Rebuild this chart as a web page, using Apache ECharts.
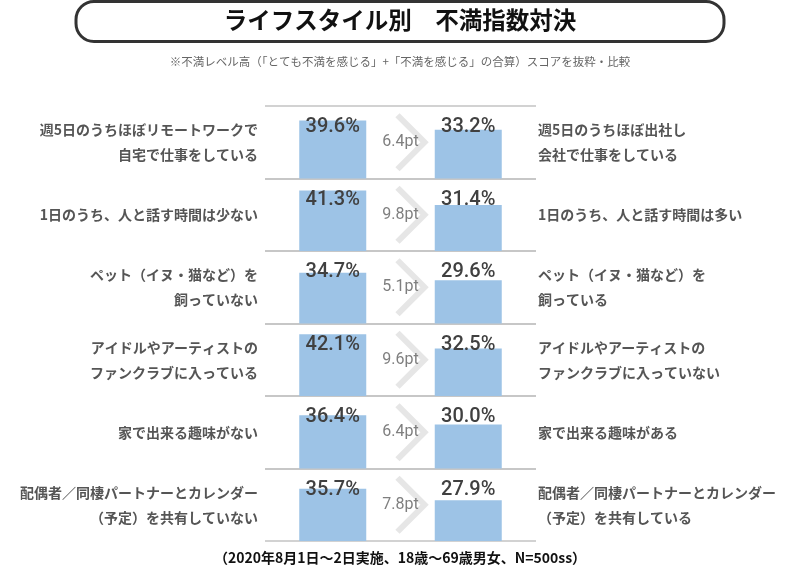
<!DOCTYPE html>
<html>
<head>
<meta charset="utf-8">
<script src="https://cdn.jsdelivr.net/npm/echarts@6/dist/echarts.min.js"></script>
<style>
html,body{margin:0;padding:0;background:#fff;}
#main{width:800px;height:575px;}
</style>
</head>
<body>
<div id="main"></div>
<script>
const titleText = 'ライフスタイル別　不満指数対決';
const subtitleText = '※不満レベル高（「とても不満を感じる」+「不満を感じる」の合算）スコアを抜粋・比較';
const footerText = '（2020年8月1日～2日実施、18歳～69歳男女、N=500ss）';

const leftLabels = [
  '週5日のうちほぼリモートワークで\n自宅で仕事をしている',
  '1日のうち、人と話す時間は少ない',
  'ペット（イヌ・猫など）を\n飼っていない',
  'アイドルやアーティストの\nファンクラブに入っている',
  '家で出来る趣味がない',
  '配偶者／同棲パートナーとカレンダー\n（予定）を共有していない'
];
const rightLabels = [
  '週5日のうちほぼ出社し\n会社で仕事をしている',
  '1日のうち、人と話す時間は多い',
  'ペット（イヌ・猫など）を\n飼っている',
  'アイドルやアーティストの\nファンクラブに入っていない',
  '家で出来る趣味がある',
  '配偶者／同棲パートナーとカレンダー\n（予定）を共有している'
];
const leftValues = [39.6, 41.3, 34.7, 42.1, 36.4, 35.7];
const rightValues = [33.2, 31.4, 29.6, 32.5, 30.0, 27.9];
const diffValues = [6.4, 9.8, 5.1, 9.6, 6.4, 7.8];
const sideCategories = ['left', 'right'];

const CJK = '"Noto Sans CJK JP", "Noto Sans", sans-serif';
const NUM = 'Roboto, "Noto Sans", sans-serif';
const Y_MAX = 49.5;
const ROW_TOP = 106;
const ROW_H = 72.5;

const grids = [], xAxes = [], yAxes = [], series = [];
leftValues.forEach((lv, i) => {
  const top = ROW_TOP + ROW_H * i;
  grids.push({ left: 265, right: 264, top: top, height: ROW_H });
  xAxes.push({
    type: 'category', gridIndex: i, data: sideCategories,
    axisLine: { show: false }, axisTick: { show: false }, axisLabel: { show: false }
  });
  yAxes.push({
    type: 'value', gridIndex: i, position: 'left', min: 0, max: Y_MAX, interval: Y_MAX,
    axisLine: { show: false }, axisTick: { show: false }, axisLabel: { show: false },
    splitLine: { show: true, lineStyle: { color: '#c3c3c3', width: 1.5 } },
    name: leftLabels[i], nameLocation: 'middle', nameRotate: 0, nameGap: 7,
    nameTextStyle: { align: 'right', verticalAlign: 'middle', fontFamily: CJK, fontSize: 14,
      fontWeight: 'bold', color: '#555', lineHeight: 25 }
  });
  yAxes.push({
    type: 'value', gridIndex: i, position: 'right', min: 0, max: Y_MAX, interval: Y_MAX,
    axisLine: { show: false }, axisTick: { show: false }, axisLabel: { show: false },
    splitLine: { show: false },
    name: rightLabels[i], nameLocation: 'middle', nameRotate: 0, nameGap: 2,
    nameTextStyle: { align: 'left', verticalAlign: 'middle', fontFamily: CJK, fontSize: 14,
      fontWeight: 'bold', color: '#555', lineHeight: 25 }
  });
  series.push({
    type: 'bar', xAxisIndex: i, yAxisIndex: i * 2,
    data: [lv, rightValues[i]], barWidth: 67, silent: true,
    itemStyle: { color: '#9dc3e6' },
    label: {
      show: true, position: 'insideTop', fontFamily: NUM, fontSize: 20, fontWeight: 500,
      color: '#404040', formatter: p => p.value.toFixed(1) + '%'
    },
    labelLayout: (params) => ({
      x: params.rect.x + params.rect.width / 2,
      y: top + 21,
      align: 'center',
      verticalAlign: 'middle'
    })
  });
  series.push({
    type: 'custom', xAxisIndex: i, yAxisIndex: i * 2, silent: true, z: 5,
    data: [[0, diffValues[i]]],
    renderItem: (params, api) => {
      const a = api.coord([0, 0]);
      const b = api.coord([1, 0]);
      const t = api.coord([0, Y_MAX]);
      const cx = (a[0] + b[0]) / 2;
      const cy = (a[1] + t[1]) / 2;
      return {
        type: 'group',
        children: [
          { type: 'polyline', shape: { points: [[cx - 3, cy - 27], [cx + 24, cy], [cx - 3, cy + 27]] },
            style: { stroke: '#e6e6e6', lineWidth: 6, fill: null, lineJoin: 'miter' } },
          { type: 'text', style: { x: cx, y: cy, text: api.value(1).toFixed(1) + 'pt',
            align: 'center', verticalAlign: 'middle', fontFamily: NUM, fontSize: 16, fill: '#7f7f7f' } }
        ]
      };
    }
  });
});

const chart = echarts.init(document.getElementById('main'), null, { renderer: 'canvas' });
chart.setOption({
  backgroundColor: '#fff',
  animation: false,
  graphic: [{
    type: 'rect', z: 0,
    shape: { x: 76, y: 1.5, width: 648, height: 40, r: 18 },
    style: { fill: 'none', stroke: '#333', lineWidth: 3 }
  }],
  title: [
    { text: titleText, left: 'center', top: 8.5, padding: 0,
      textStyle: { fontFamily: CJK, fontSize: 23.5, fontWeight: 'bold', color: '#111' } },
    { text: subtitleText, left: 'center', top: 56, padding: 0,
      textStyle: { fontFamily: CJK, fontSize: 11.5, fontWeight: 'normal', color: '#666' } },
    { text: footerText, left: 'center', top: 551, padding: 0,
      textStyle: { fontFamily: CJK, fontSize: 14, fontWeight: 'bold', color: '#111' } }
  ],
  grid: grids,
  xAxis: xAxes,
  yAxis: yAxes,
  series: series
});
</script>
</body>
</html>
